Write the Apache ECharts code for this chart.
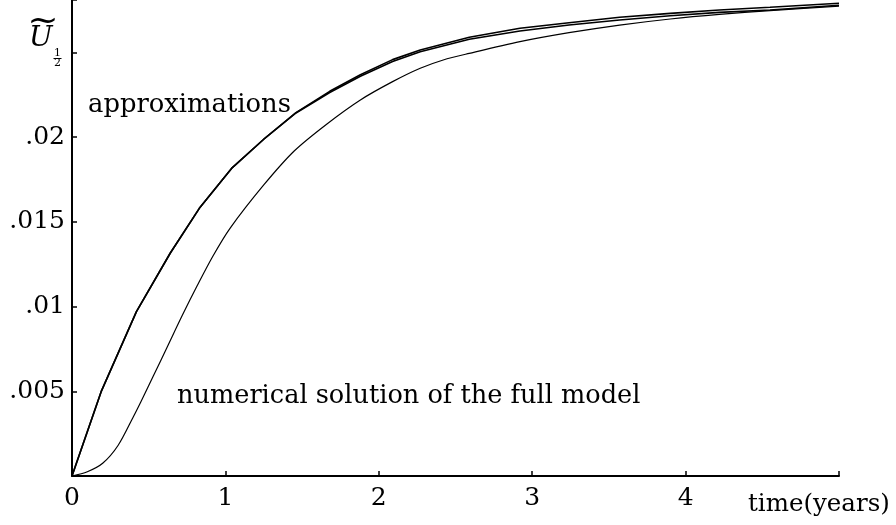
<!DOCTYPE html>
<html>
<head>
<meta charset="utf-8">
<script src="https://cdn.jsdelivr.net/npm/echarts@6/dist/echarts.min.js"></script>
<style>
  html, body { margin: 0; padding: 0; background: #fff; }
  #chart { width: 896px; height: 525px; }
</style>
</head>
<body>
<div id="chart"></div>
<script>
// Time grid (years) and values of the two approximations
const approxTimes = [0, 0.19, 0.42, 0.64, 0.83, 1.04, 1.25, 1.46, 1.68, 1.88, 2.09, 2.27, 2.59, 2.92, 3.24, 3.57, 3.90, 4.22, 4.55, 5.0];
const approxUpper = [0, 0.00498, 0.0097, 0.01315, 0.0158, 0.01816, 0.01988, 0.02145, 0.02271, 0.02369, 0.02458, 0.02515, 0.0259, 0.02643, 0.02676, 0.02708, 0.02731, 0.02751, 0.02767, 0.02791];
const approxLower = [0, 0.00498, 0.0097, 0.01315, 0.0158, 0.01816, 0.01988, 0.02143, 0.02264, 0.0236, 0.02447, 0.02505, 0.02578, 0.02627, 0.02662, 0.02692, 0.02717, 0.02737, 0.02751, 0.02779];

// Numerical solution of the full model
const numTimes = [0, 0.1, 0.2, 0.3, 0.4, 0.45, 0.53, 0.62, 0.72, 0.82, 0.92, 1.03, 1.25, 1.45, 1.66, 1.88, 2.09, 2.27, 2.42, 2.59, 2.92, 3.24, 3.57, 3.90, 4.22, 4.55, 5.0];
const numValues = [0, 0.00025, 0.00075, 0.0018, 0.0035, 0.0044, 0.0059, 0.0076, 0.0095, 0.0113, 0.0130, 0.01462, 0.01718, 0.0192, 0.02077, 0.0222, 0.02328, 0.02407, 0.02456, 0.02495, 0.02564, 0.02617, 0.02662, 0.02698, 0.02725, 0.02747, 0.02774];

// Tick labels
const xTickValues = [0, 1, 2, 3, 4];
const xTickText = ['0', '1', '2', '3', '4'];
const yTickValues = [0.005, 0.01, 0.015, 0.02];
const yTickText = ['.005', '.01', '.015', '.02'];

const serif = 'DejaVu Serif';
const pairs = (xs, ys) => xs.map((x, i) => [x, ys[i]]);
const findLabel = (vals, texts, v) => {
  const i = vals.findIndex(t => Math.abs(t - v) < 1e-9);
  return i < 0 ? '' : texts[i];
};

const chart = echarts.init(document.getElementById('chart'), null, { renderer: 'canvas' });

const lineSeries = (name, data, width, smooth) => ({
  name, type: 'line', data, showSymbol: false, symbol: 'none', smooth,
  lineStyle: { color: '#000', width }, animation: false, silent: true
});

chart.setOption({
  animation: false,
  backgroundColor: '#fff',
  grid: { left: 72, right: 57, top: 0, bottom: 49, containLabel: false },
  xAxis: {
    type: 'value', min: 0, max: 5, interval: 1,
    axisLine: { lineStyle: { color: '#000', width: 2 } },
    axisTick: { inside: true, length: 5, lineStyle: { color: '#000', width: 1.5 } },
    splitLine: { show: false },
    axisLabel: {
      color: '#000', fontFamily: serif, fontSize: 25, margin: 22, verticalAlign: 'middle',
      formatter: v => findLabel(xTickValues, xTickText, v)
    }
  },
  yAxis: {
    type: 'value', min: 0, max: 0.0281, interval: 0.005,
    axisLine: { onZero: false, lineStyle: { color: '#000', width: 2 } },
    axisTick: { inside: true, length: 5, lineStyle: { color: '#000', width: 1.5 } },
    splitLine: { show: false },
    axisLabel: {
      color: '#000', fontFamily: serif, fontSize: 25, margin: 7,
      padding: [5, 0, 0, 0],
      formatter: v => findLabel(yTickValues, yTickText, v)
    }
  },
  series: [
    lineSeries('approximation 1', pairs(approxTimes, approxUpper), 1.6, false),
    lineSeries('approximation 2', pairs(approxTimes, approxLower), 1.6, false),
    lineSeries('numerical solution', pairs(numTimes, numValues), 1.2, 0.3)
  ],
  graphic: [
    { type: 'text', left: 88, top: 92, style: { text: 'approximations', font: '25.8px "DejaVu Serif"', fill: '#000' } },
    { type: 'text', left: 177, top: 383, style: { text: 'numerical solution of the full model', font: '25.6px "DejaVu Serif"', fill: '#000' } },
    { type: 'text', left: 748, top: 492, style: { text: 'time(years)', font: '24.5px "DejaVu Serif"', fill: '#000' } },
    // axis symbol: U with a wide tilde and subscript one half
    { type: 'text', left: 29, top: 25, style: { text: 'U', font: 'italic 28px "DejaVu Serif"', fill: '#000' } },
    { type: 'text', x: 43, y: 22, scaleX: 1.25, scaleY: 1.1, style: { text: '~', font: '30px "DejaVu Serif"', fill: '#000', align: 'center', verticalAlign: 'middle' } },
    { type: 'text', x: 57.5, y: 53, style: { text: '1', font: '11px "DejaVu Serif"', fill: '#000', align: 'center', verticalAlign: 'middle' } },
    { type: 'rect', shape: { x: 53.5, y: 58, width: 8, height: 1 }, style: { fill: '#000' } },
    { type: 'text', x: 57.5, y: 63.5, style: { text: '2', font: '11px "DejaVu Serif"', fill: '#000', align: 'center', verticalAlign: 'middle' } }
  ]
});
</script>
</body>
</html>
